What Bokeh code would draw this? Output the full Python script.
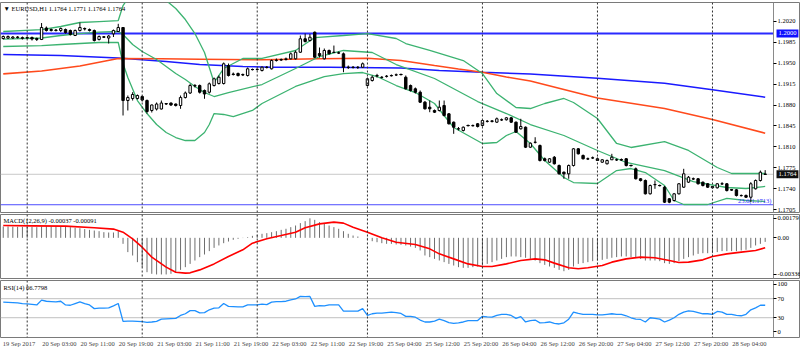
from bokeh.plotting import figure
from bokeh.layouts import column
from bokeh.models import Range1d, FixedTicker, PrintfTickFormatter, Span, Label, ColumnDataSource
from bokeh.embed import file_html
from bokeh.resources import INLINE

# ---------------- data (EURUSD H1) ----------------
opens = [1.19915, 1.19923, 1.19923, 1.19931, 1.19915, 1.19923, 1.19931, 1.19915, 1.19898, 1.20090,
         1.20065, 1.20057, 1.20049, 1.20065, 1.20049, 1.19965, 1.20049, 1.20082, 1.20065, 1.20049,
         1.19898, 1.19940, 1.19923, 1.19993, 1.20032, 1.20099, 1.18876, 1.18910, 1.18910, 1.18943,
         1.18876, 1.18709, 1.18734, 1.18734, 1.18826, 1.18834, 1.18817, 1.18792, 1.18926, 1.19002,
         1.19119, 1.19127, 1.19044, 1.19015, 1.19127, 1.19161, 1.19161, 1.19462, 1.19320, 1.19328,
         1.19312, 1.19295, 1.19395, 1.19395, 1.19379, 1.19434, 1.19407, 1.19546, 1.19554, 1.19563,
         1.19575, 1.19575, 1.19685, 1.19910, 1.19881, 1.20020, 1.19663, 1.19575, 1.19714, 1.19685,
         1.19675, 1.19658, 1.19434, 1.19434, 1.19429, 1.19434, 1.19127, 1.19211, 1.19286, 1.19266,
         1.19283, 1.19295, 1.19303, 1.19312, 1.19266, 1.19127, 1.19072, 1.19015, 1.18848, 1.18764,
         1.18709, 1.18709, 1.18792, 1.18653, 1.18513, 1.18402, 1.18374, 1.18457, 1.18457, 1.18486,
         1.18457, 1.18529, 1.18529, 1.18513, 1.18553, 1.18553, 1.18586, 1.18513, 1.18402, 1.18429,
         1.18094, 1.18178, 1.18122, 1.17900, 1.17843, 1.17926, 1.17787, 1.17675, 1.17648, 1.17787,
         1.18067, 1.17955, 1.17900, 1.17916, 1.17900, 1.17843, 1.17816, 1.17883, 1.17883, 1.17883,
         1.17900, 1.17787, 1.17732, 1.17565, 1.17536, 1.17313, 1.17469, 1.17452, 1.17424, 1.17230,
         1.17201, 1.17313, 1.17424, 1.17508, 1.17565, 1.17565, 1.17508, 1.17481, 1.17436, 1.17414,
         1.17481, 1.17481, 1.17380, 1.17380, 1.17285, 1.17285, 1.17256, 1.17397, 1.17536, 1.17640]
highs = [1.19965, 1.19965, 1.19956, 1.19956, 1.19948, 1.19948, 1.19948, 1.19931, 1.20174, 1.20116,
         1.20082, 1.20074, 1.20099, 1.20082, 1.20065, 1.20065, 1.20183, 1.20099, 1.20082, 1.20065,
         1.19965, 1.19956, 1.19973, 1.20065, 1.20161, 1.20107, 1.18960, 1.19015, 1.18977, 1.18960,
         1.18893, 1.18809, 1.18843, 1.18876, 1.18834, 1.18843, 1.18826, 1.18960, 1.19027, 1.19156,
         1.19152, 1.19144, 1.19060, 1.19178, 1.19261, 1.19295, 1.19513, 1.19496, 1.19345, 1.19345,
         1.19328, 1.19429, 1.19412, 1.19412, 1.19446, 1.19454, 1.19563, 1.19580, 1.19580, 1.19596,
         1.19680, 1.19714, 1.19965, 1.19998, 1.19990, 1.20032, 1.19764, 1.19747, 1.19730, 1.19797,
         1.19697, 1.19680, 1.19462, 1.19454, 1.19454, 1.19513, 1.19261, 1.19295, 1.19323, 1.19286,
         1.19303, 1.19312, 1.19328, 1.19328, 1.19295, 1.19144, 1.19094, 1.19044, 1.18868, 1.18876,
         1.18725, 1.18876, 1.18876, 1.18667, 1.18524, 1.18432, 1.18441, 1.18474, 1.18474, 1.18499,
         1.18558, 1.18549, 1.18549, 1.18591, 1.18575, 1.18600, 1.18600, 1.18524, 1.18570, 1.18441,
         1.18173, 1.18261, 1.18139, 1.17921, 1.17913, 1.17946, 1.17804, 1.17687, 1.17804, 1.18080,
         1.18080, 1.17972, 1.17921, 1.17938, 1.17921, 1.17896, 1.17888, 1.17983, 1.17905, 1.17905,
         1.17913, 1.17804, 1.17754, 1.17578, 1.17553, 1.17469, 1.17536, 1.17469, 1.17444, 1.17243,
         1.17327, 1.17494, 1.17732, 1.17611, 1.17586, 1.17578, 1.17519, 1.17494, 1.17444, 1.17494,
         1.17508, 1.17494, 1.17394, 1.17394, 1.17302, 1.17302, 1.17508, 1.17553, 1.17703, 1.17710]
lows = [1.19898, 1.19906, 1.19906, 1.19915, 1.19898, 1.19906, 1.19881, 1.19873, 1.19889, 1.20032,
        1.20032, 1.20032, 1.20023, 1.19998, 1.19965, 1.19956, 1.20032, 1.20049, 1.20032, 1.19864,
        1.19881, 1.19923, 1.19831, 1.19940, 1.20023, 1.18625, 1.18709, 1.18876, 1.18893, 1.18859,
        1.18658, 1.18675, 1.18709, 1.18725, 1.18801, 1.18784, 1.18776, 1.18737, 1.18910, 1.18985,
        1.19094, 1.18993, 1.18905, 1.18993, 1.19111, 1.19144, 1.19144, 1.19278, 1.19295, 1.19278,
        1.19286, 1.19278, 1.19379, 1.19379, 1.19362, 1.19412, 1.19395, 1.19529, 1.19538, 1.19546,
        1.19563, 1.19563, 1.19672, 1.19848, 1.19864, 1.19588, 1.19596, 1.19563, 1.19647, 1.19672,
        1.19655, 1.19350, 1.19404, 1.19412, 1.19404, 1.19420, 1.19111, 1.19194, 1.19261, 1.19245,
        1.19261, 1.19278, 1.19286, 1.19295, 1.19060, 1.19027, 1.18993, 1.18834, 1.18725, 1.18680,
        1.18667, 1.18692, 1.18608, 1.18474, 1.18318, 1.18374, 1.18357, 1.18441, 1.18441, 1.18424,
        1.18441, 1.18508, 1.18508, 1.18499, 1.18533, 1.18541, 1.18499, 1.18332, 1.18390, 1.18080,
        1.18080, 1.18156, 1.17854, 1.17854, 1.17829, 1.17804, 1.17637, 1.17565, 1.17565, 1.17771,
        1.17972, 1.17888, 1.17879, 1.17896, 1.17863, 1.17829, 1.17804, 1.17883, 1.17863, 1.17863,
        1.17771, 1.17771, 1.17553, 1.17519, 1.17302, 1.17302, 1.17397, 1.17436, 1.17159, 1.17156,
        1.17184, 1.17302, 1.17411, 1.17494, 1.17544, 1.17469, 1.17436, 1.17411, 1.17402, 1.17402,
        1.17461, 1.17352, 1.17360, 1.17268, 1.17268, 1.17243, 1.17173, 1.17385, 1.17519, 1.17640]
closes = [1.19948, 1.19948, 1.19940, 1.19940, 1.19931, 1.19931, 1.19906, 1.19898, 1.20099, 1.20049,
          1.20049, 1.20049, 1.20082, 1.20015, 1.19982, 1.20049, 1.20099, 1.20074, 1.20049, 1.19881,
          1.19948, 1.19940, 1.19956, 1.20049, 1.20099, 1.18876, 1.18926, 1.18977, 1.18960, 1.18884,
          1.18692, 1.18801, 1.18817, 1.18834, 1.18817, 1.18801, 1.18792, 1.18926, 1.19002, 1.19127,
          1.19127, 1.19015, 1.18985, 1.19156, 1.19240, 1.19266, 1.19491, 1.19295, 1.19312, 1.19295,
          1.19303, 1.19407, 1.19395, 1.19400, 1.19434, 1.19430, 1.19546, 1.19554, 1.19563, 1.19575,
          1.19658, 1.19685, 1.19910, 1.19864, 1.19936, 1.19601, 1.19630, 1.19714, 1.19658, 1.19680,
          1.19670, 1.19434, 1.19430, 1.19429, 1.19434, 1.19491, 1.19240, 1.19266, 1.19295, 1.19260,
          1.19280, 1.19290, 1.19307, 1.19310, 1.19072, 1.19044, 1.19015, 1.18848, 1.18737, 1.18737,
          1.18680, 1.18764, 1.18625, 1.18486, 1.18429, 1.18400, 1.18429, 1.18455, 1.18452, 1.18441,
          1.18541, 1.18525, 1.18530, 1.18570, 1.18550, 1.18586, 1.18513, 1.18345, 1.18441, 1.18094,
          1.18161, 1.18175, 1.17871, 1.17871, 1.17900, 1.17816, 1.17648, 1.17648, 1.17787, 1.18067,
          1.17983, 1.17900, 1.17895, 1.17912, 1.17871, 1.17883, 1.17871, 1.17926, 1.17880, 1.17885,
          1.17787, 1.17785, 1.17565, 1.17536, 1.17313, 1.17452, 1.17465, 1.17450, 1.17173, 1.17173,
          1.17313, 1.17481, 1.17648, 1.17591, 1.17560, 1.17481, 1.17452, 1.17424, 1.17414, 1.17481,
          1.17478, 1.17368, 1.17378, 1.17285, 1.17282, 1.17256, 1.17481, 1.17536, 1.17675, 1.17640]

# Bollinger bands (20) read at bar positions
bb_upper_bar = [0, 8, 12, 16, 20, 24, 25, 26, 27, 28, 30, 32, 34, 36, 38, 40, 42, 43, 44, 46,
                50, 54, 61, 65, 71, 76, 82, 84, 89, 96, 100, 103, 107, 110, 113, 117, 119, 124, 128, 131,
                138, 143, 149, 152, 159]
bb_upper = [1.20032, 1.20065, 1.20116, 1.20183, 1.20199, 1.20216, 1.20467, 1.20585, 1.20635, 1.20668,
            1.20702, 1.20635, 1.20551, 1.20417, 1.20233, 1.19998, 1.19680, 1.19429, 1.19178, 1.19412,
            1.19580, 1.19580, 1.19714, 1.19931, 1.19965, 1.19998, 1.19915, 1.19831, 1.19714, 1.19546,
            1.19328, 1.18993, 1.18759, 1.18742, 1.18826, 1.18910, 1.18843, 1.18575, 1.18156, 1.18089,
            1.18189, 1.18039, 1.17754, 1.17653, 1.17653]
bb_mid_bar = [0, 8, 12, 16, 20, 24, 25, 27, 29, 32, 34, 36, 38, 40, 42, 44, 47, 54, 61, 66,
              71, 77, 82, 90, 99, 105, 110, 117, 124, 130, 138, 144, 151, 155, 159]
bb_mid = [1.19906, 1.19923, 1.19965, 1.19998, 1.20023, 1.20032, 1.19982, 1.19814, 1.19697, 1.19563,
          1.19446, 1.19328, 1.19228, 1.19111, 1.19010, 1.18943, 1.19010, 1.19144, 1.19412, 1.19613,
          1.19714, 1.19680, 1.19479, 1.19245, 1.18859, 1.18658, 1.18474, 1.18290, 1.18039, 1.17838,
          1.17703, 1.17519, 1.17419, 1.17402, 1.17436]
bb_low_bar = [0, 8, 12, 16, 20, 24, 25, 26, 28, 30, 32, 34, 36, 38, 40, 42, 43, 44, 46, 48,
              52, 54, 61, 67, 71, 75, 78, 82, 86, 90, 94, 100, 103, 105, 107, 110, 113, 117, 119, 124,
              128, 131, 134, 138, 140, 142, 147, 151, 155, 159]
bb_low = [1.19781, 1.19797, 1.19814, 1.19831, 1.19848, 1.19848, 1.19496, 1.19261, 1.18876, 1.18658,
          1.18474, 1.18340, 1.18256, 1.18206, 1.18206, 1.18340, 1.18474, 1.18658, 1.18642, 1.18608,
          1.18709, 1.18826, 1.19111, 1.19278, 1.19328, 1.19345, 1.19278, 1.19127, 1.19010, 1.18826,
          1.18424, 1.18156, 1.18173, 1.18290, 1.18357, 1.18156, 1.17871, 1.17586, 1.17502, 1.17486,
          1.17703, 1.17737, 1.17670, 1.17452, 1.17201, 1.17134, 1.17134, 1.17235, 1.17201, 1.17184]

# moving averages
ma_slow_bar = [0, 12, 24, 34, 41, 50, 56, 68, 83, 91, 100, 110, 124, 138, 148, 159]
ma_slow = [1.19647, 1.19630, 1.19588, 1.19529, 1.19479, 1.19446, 1.19434, 1.19434, 1.19420, 1.19379,
           1.19350, 1.19320, 1.19250, 1.19166, 1.19055, 1.18931]
ma_fast_bar = [0, 8, 16, 24, 33, 41, 54, 66, 76, 83, 90, 95, 100, 105, 110, 124, 138, 148, 159]
ma_fast = [1.19323, 1.19370, 1.19454, 1.19580, 1.19575, 1.19568, 1.19558, 1.19575, 1.19583, 1.19546,
           1.19462, 1.19404, 1.19350, 1.19270, 1.19203, 1.18918, 1.18742, 1.18558, 1.18328]

# horizontal levels
round_level = 1.2000
fib_level = 1.1713
price_ticks = [1.2020, 1.1985, 1.1950, 1.1915, 1.1880, 1.1845, 1.1810, 1.1775, 1.1740, 1.1705]

# MACD(12,26,9)
macd_hist = [0.00104, 0.00104, 0.00102, 0.00101, 0.00100, 0.00100, 0.00099, 0.00098, 0.00104, 0.00106,
             0.00105, 0.00104, 0.00104, 0.00100, 0.00098, 0.00092, 0.00088, 0.00080, 0.00073, 0.00067,
             0.00061, 0.00052, 0.00049, 0.00049, 0.00061, -0.00055, -0.00131, -0.00162, -0.00223, -0.00269,
             -0.00315, -0.00330, -0.00336, -0.00336, -0.00336, -0.00330, -0.00315, -0.00294, -0.00269, -0.00239,
             -0.00208, -0.00177, -0.00153, -0.00122, -0.00092, -0.00070, -0.00049, -0.00034, -0.00018, -0.00009,
             -0.00002, 0.00006, 0.00018, 0.00028, 0.00037, 0.00043, 0.00052, 0.00061, 0.00073, 0.00083,
             0.00098, 0.00113, 0.00135, 0.00153, 0.00179, 0.00165, 0.00144, 0.00135, 0.00113, 0.00098,
             0.00083, 0.00061, 0.00037, 0.00021, 0.00012, 0.00000, -0.00018, -0.00031, -0.00040, -0.00049,
             -0.00055, -0.00055, -0.00061, -0.00064, -0.00070, -0.00080, -0.00092, -0.00116, -0.00162, -0.00177,
             -0.00193, -0.00208, -0.00223, -0.00239, -0.00254, -0.00269, -0.00275, -0.00275, -0.00269, -0.00263,
             -0.00254, -0.00239, -0.00223, -0.00208, -0.00193, -0.00177, -0.00171, -0.00171, -0.00177, -0.00183,
             -0.00193, -0.00208, -0.00232, -0.00248, -0.00263, -0.00275, -0.00294, -0.00306, -0.00294, -0.00263,
             -0.00239, -0.00232, -0.00223, -0.00214, -0.00208, -0.00202, -0.00193, -0.00183, -0.00177, -0.00171,
             -0.00171, -0.00177, -0.00183, -0.00193, -0.00208, -0.00208, -0.00208, -0.00214, -0.00232, -0.00239,
             -0.00232, -0.00214, -0.00193, -0.00177, -0.00162, -0.00147, -0.00141, -0.00141, -0.00141, -0.00131,
             -0.00122, -0.00122, -0.00122, -0.00122, -0.00116, -0.00110, -0.00092, -0.00070, -0.00055, -0.00037]
signal_bar = [0, 6, 13, 19, 23, 25, 27, 29, 31, 34, 36, 38, 39, 41, 44, 47, 50, 52, 55, 58,
              61, 63, 66, 69, 71, 73, 76, 79, 82, 86, 89, 91, 94, 97, 100, 102, 105, 108, 111, 113,
              115, 118, 120, 122, 125, 127, 130, 133, 136, 139, 141, 143, 146, 148, 151, 154, 157, 159]
signal = [0.00113, 0.00110, 0.00107, 0.00092, 0.00080, 0.00052, -0.00009, -0.00086, -0.00177, -0.00269,
          -0.00315, -0.00324, -0.00321, -0.00294, -0.00239, -0.00171, -0.00110, -0.00049, -0.00009, 0.00021,
          0.00052, 0.00092, 0.00128, 0.00144, 0.00135, 0.00098, 0.00052, 0.00000, -0.00040, -0.00061,
          -0.00101, -0.00147, -0.00193, -0.00239, -0.00263, -0.00263, -0.00239, -0.00208, -0.00193, -0.00202,
          -0.00232, -0.00275, -0.00284, -0.00275, -0.00254, -0.00223, -0.00193, -0.00177, -0.00183, -0.00208,
          -0.00226, -0.00223, -0.00202, -0.00171, -0.00147, -0.00131, -0.00116, -0.00091]
macd_ticks = [0.00179, 0.0, -0.00336]

# RSI(14)
rsi = [62.8, 62.2, 61.6, 61.0, 59.8, 59.2, 58.0, 56.8, 67.0, 64.6,
       64.0, 63.4, 64.6, 56.8, 56.2, 59.8, 63.4, 59.8, 56.8, 49.1,
       50.2, 50.2, 50.8, 55.0, 59.8, 22.2, 22.8, 22.8, 22.2, 21.6,
       20.4, 21.0, 22.2, 26.9, 27.5, 28.1, 28.7, 34.7, 38.3, 44.9,
       44.9, 40.1, 40.7, 46.6, 50.2, 50.8, 59.8, 53.8, 53.2, 52.6,
       52.6, 56.8, 56.8, 56.8, 58.6, 57.4, 62.8, 64.0, 64.0, 64.6,
       67.6, 69.4, 74.7, 74.1, 74.7, 53.8, 55.6, 55.0, 56.8, 56.8,
       56.8, 43.7, 43.7, 43.7, 43.7, 49.1, 34.7, 38.3, 39.5, 39.5,
       40.7, 41.9, 40.7, 38.9, 32.9, 32.9, 31.1, 25.1, 21.0, 21.0,
       22.8, 26.9, 24.0, 19.8, 18.0, 19.2, 21.0, 24.0, 24.0, 24.0,
       32.9, 31.7, 31.1, 34.7, 37.1, 37.1, 34.7, 28.7, 32.3, 21.0,
       24.0, 25.1, 19.2, 19.8, 21.0, 18.0, 16.8, 19.2, 26.9, 41.9,
       38.9, 37.1, 37.1, 37.1, 35.9, 35.9, 37.1, 38.3, 37.1, 37.1,
       34.1, 29.9, 26.9, 26.3, 21.0, 29.9, 28.7, 26.9, 21.0, 25.1,
       29.9, 37.1, 41.9, 44.3, 43.1, 40.7, 38.3, 38.3, 37.1, 43.1,
       41.9, 37.1, 37.1, 34.7, 34.1, 37.1, 46.6, 50.8, 56.2, 56.2]
rsi_levels = [70, 30]
rsi_ticks = [0, 30, 70, 100]

# time axis
time_label_bars = [0, 8, 16, 24, 32, 40, 48, 56, 64, 72, 80, 88, 96, 104, 112, 120, 128, 136, 144, 152]
time_labels = ["19 Sep 2017", "20 Sep 03:00", "20 Sep 11:00", "20 Sep 19:00", "21 Sep 03:00",
               "21 Sep 11:00", "21 Sep 19:00", "22 Sep 03:00", "22 Sep 11:00", "22 Sep 19:00",
               "25 Sep 04:00", "25 Sep 12:00", "25 Sep 20:00", "26 Sep 04:00", "26 Sep 12:00",
               "26 Sep 20:00", "27 Sep 04:00", "27 Sep 12:00", "27 Sep 20:00", "28 Sep 04:00"]
day_start_bars = [5, 29, 53, 76, 100, 124, 148]

# ---------------- drawing ----------------
FONT = "Liberation Sans Narrow"
FS = "6.5px"
n = len(closes)
bars = list(range(n))
X0, X1 = -0.572, 166.37          # full 800 px wide frame
AXIS_X = 160.74                  # where the price scale starts (px 773)
x_range = Range1d(X0, X1)


def make_fig(h, yr, top, bottom, xaxis=False):
    p = figure(width=800, height=h, x_range=x_range, y_range=yr,
               output_backend="svg", toolbar_location=None,
               x_axis_location="below" if xaxis else None, y_axis_location="right",
               min_border=0, min_border_left=0, min_border_right=0,
               min_border_top=top, min_border_bottom=bottom)
    p.grid.visible = False
    p.outline_line_color = "#7a7a7a"
    p.outline_line_width = 1
    ax = p.yaxis[0]
    ax.fixed_location = AXIS_X
    ax.axis_line_color = "#8a8a8a"
    ax.major_tick_out = 3
    ax.major_tick_in = 0
    ax.minor_tick_line_color = None
    ax.major_label_standoff = 1
    ax.major_label_text_font = FONT
    ax.major_label_text_font_size = FS
    ax.major_label_text_color = "black"
    for d in day_start_bars:
        p.add_layout(Span(location=d, dimension="height", line_color="#303030",
                          line_dash="2 2", line_width=1))
    return p


def hlines(p, levels, color, width):
    p.segment(x0=[X0] * len(levels), x1=[AXIS_X] * len(levels), y0=levels, y1=levels,
              line_color=color, line_width=width)


# main price panel
p1 = make_fig(213, Range1d(1.17000, 1.20518), 2, 1)
p1.yaxis[0].ticker = FixedTicker(ticks=price_ticks)
p1.yaxis[0].formatter = PrintfTickFormatter(format="%.4f")

hlines(p1, [closes[-1]], "#c8c8c8", 1)
hlines(p1, [fib_level], "#4d4dff", 1)
hlines(p1, [round_level], "#2a2aff", 2)

p1.line(ma_slow_bar, ma_slow, line_color="#1a1aff", line_width=1.6)
p1.line(ma_fast_bar, ma_fast, line_color="#ff4a1c", line_width=1.6)
for bx, by in ((bb_upper_bar, bb_upper), (bb_mid_bar, bb_mid), (bb_low_bar, bb_low)):
    p1.line(bx, by, line_color="#3cb371", line_width=1.3)

p1.segment(x0=bars, y0=lows, x1=bars, y1=highs, line_color="black", line_width=1)
src = ColumnDataSource(dict(
    x=bars,
    top=[max(o, c) for o, c in zip(opens, closes)],
    bottom=[min(o, c) for o, c in zip(opens, closes)],
    fill=["white" if c >= o else "black" for o, c in zip(opens, closes)],
))
p1.vbar(x="x", width=0.5, top="top", bottom="bottom", fill_color="fill",
        line_color="black", line_width=1, source=src)
doji = [i for i in bars if abs(opens[i] - closes[i]) < 0.00002]
p1.segment(x0=[i - 0.3 for i in doji], y0=[opens[i] for i in doji],
           x1=[i + 0.3 for i in doji], y1=[opens[i] for i in doji],
           line_color="black", line_width=1)

p1.add_layout(Label(x=3, y=208, x_units="screen", y_units="screen", text_baseline="top",
                    text="\u25bc EURUSD,H1  1.1764 1.1771 1.1764 1.1764",
                    text_font=FONT, text_font_size=FS, text_color="black"))
p1.add_layout(Label(x=AXIS_X, y=fib_level, x_units="data", y_units="data", x_offset=-2, y_offset=1,
                    text_align="right", text_baseline="bottom", text="23.6(1.1713)",
                    text_font=FONT, text_font_size=FS, text_color="#3333ff"))
p1.add_layout(Label(x=AXIS_X, y=round_level, x_units="data", y_units="data", x_offset=3,
                    text_baseline="middle", text="1.2000", text_font=FONT, text_font_size=FS,
                    text_color="white", background_fill_color="#1010ff", padding=2))
p1.add_layout(Label(x=AXIS_X, y=closes[-1], x_units="data", y_units="data", x_offset=3,
                    text_baseline="middle", text="1.1764", text_font=FONT, text_font_size=FS,
                    text_color="white", background_fill_color="#101010", padding=2))

# MACD panel
p2 = make_fig(66, Range1d(-0.00373, 0.00214), 1, 1)
p2.yaxis[0].ticker = FixedTicker(ticks=macd_ticks)
p2.yaxis[0].major_label_overrides = {0.00179: "0.00179", 0.0: "0.00", -0.00336: "-0.00336"}
p2.segment(x0=bars, y0=[0] * n, x1=bars, y1=macd_hist, line_color="#6e6e6e", line_width=1)
p2.line(signal_bar, signal, line_color="#ff0000", line_width=1.6)
p2.add_layout(Label(x=3, y=62, x_units="screen", y_units="screen", text_baseline="top",
                    text="MACD(12,26,9) -0.00037 -0.00091", text_font=FONT,
                    text_font_size=FS, text_color="black"))

# RSI panel
p3 = make_fig(72, Range1d(-11.6, 108.2), 1, 14, xaxis=True)
p3.yaxis[0].ticker = FixedTicker(ticks=rsi_ticks)
hlines(p3, rsi_levels, "#c0c0c0", 1)
p3.line(bars, rsi, line_color="#1e90ff", line_width=1.3)
p3.add_layout(Label(x=3, y=54, x_units="screen", y_units="screen", text_baseline="top",
                    text="RSI(14) 66.7798", text_font=FONT, text_font_size=FS, text_color="black"))
xa = p3.xaxis[0]
label_offsets = [3.3] + [3.7] * (len(time_label_bars) - 1)
tick_pos = [b + o for b, o in zip(time_label_bars, label_offsets)]
xa.ticker = FixedTicker(ticks=tick_pos)
xa.major_label_overrides = {t: s for t, s in zip(tick_pos, time_labels)}
xa.major_tick_out = 0
xa.major_tick_in = 0
xa.minor_tick_line_color = None
xa.axis_line_color = None
xa.major_label_standoff = 2
xa.major_label_text_font = FONT
xa.major_label_text_font_size = FS

layout = column(p1, p2, p3, spacing=0)
open("out.html", "w").write(file_html(layout, INLINE))
